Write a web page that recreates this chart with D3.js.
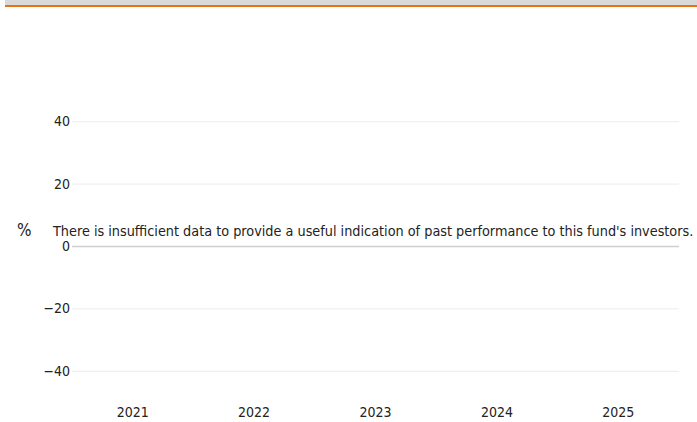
<!doctype html>
<html lang="en">
<head>
    <meta charset="UTF-8">
    <title>Past performance</title>
    <style>
        body { margin: 0; background: #fff; }
        svg text { font-family: "DejaVu Sans Condensed", "DejaVu Sans", sans-serif; fill: #222; }
    </style>
</head>
<body>
    <svg width="697" height="422"></svg>
    <script src="https://cdn.jsdelivr.net/npm/d3@7"></script>
    <script>
    var years = ['2021', '2022', '2023', '2024', '2025'];
    var yTicks = [-40, -20, 0, 20, 40];
    var yDomain = [-50, 50];
    var message = "There is insufficient data to provide a useful indication of past performance to this fund's investors.";

    var svg = d3.select('svg');

    // header strip
    svg.append('rect')
        .attr('x', 5).attr('y', 0)
        .attr('width', 692).attr('height', 5)
        .attr('fill', '#d9d9d9');
    svg.append('rect')
        .attr('x', 5).attr('y', 5)
        .attr('width', 692).attr('height', 2)
        .attr('fill', '#e8730c');

    var x = d3.scaleBand()
        .domain(years)
        .range([72, 679]);
    var y = d3.scaleLinear()
        .domain(yDomain)
        .range([402, 90]);

    // grid lines
    svg.append('g')
        .selectAll('line')
        .data(yTicks)
        .enter()
        .append('line')
        .attr('x1', 72)
        .attr('x2', 679)
        .attr('y1', function(d) { return y(d) + 0.5; })
        .attr('y2', function(d) { return y(d) + 0.5; })
        .attr('stroke', function(d) { return d === 0 ? '#cfcfcf' : '#ececec'; })
        .attr('stroke-width', function(d) { return d === 0 ? 1.5 : 1; });

    // y axis
    var yAxis = svg.append('g')
        .attr('transform', 'translate(72,0)')
        .call(d3.axisLeft(y).tickValues(yTicks).tickSize(0).tickPadding(2)
            .tickFormat(function(d) { return d < 0 ? '\u2212' + Math.abs(d) : d; }));
    yAxis.select('.domain').remove();
    yAxis.selectAll('text')
        .style('font-size', '14px')
        .style('fill', '#222');

    // x axis
    var xAxis = svg.append('g')
        .attr('transform', 'translate(0,402)')
        .call(d3.axisBottom(x).tickSize(0).tickPadding(5));
    xAxis.select('.domain').remove();
    xAxis.selectAll('text')
        .style('font-size', '14px')
        .style('fill', '#222');

    svg.append('text')
        .attr('x', 17)
        .attr('y', 236)
        .style('font-size', '17px')
        .text('%');

    svg.append('text')
        .attr('x', 53)
        .attr('y', 236)
        .style('font-size', '14.3px')
        .text(message);
    </script>
</body>
</html>
